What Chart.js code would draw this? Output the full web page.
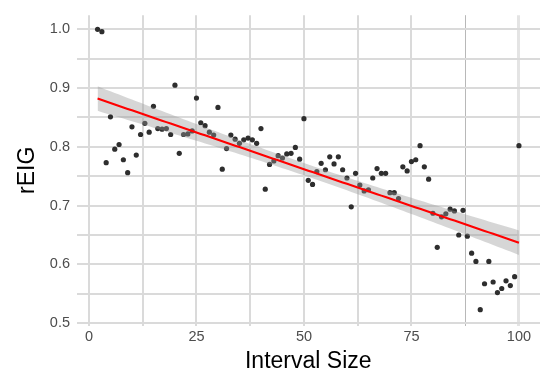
<!DOCTYPE html>
<html>
<head>
<meta charset="utf-8">
<script src="https://cdn.jsdelivr.net/npm/chart.js@4"></script>
<style>
  html, body { margin: 0; padding: 0; background: #fff; }
  #wrap { width: 544px; height: 379px; }
</style>
</head>
<body>
<div id="wrap"><canvas id="c" width="544" height="379"></canvas></div>
<script>
// Data
const intervalSize = [2,3,4,5,6,7,8,9,10,11,12,13,14,15,16,17,18,19,20,21,22,23,24,25,26,27,28,29,30,31,32,33,34,35,36,37,38,39,40,41,42,43,44,45,46,47,48,49,50,51,52,53,54,55,56,57,58,59,60,61,62,63,64,65,66,67,68,69,70,71,72,73,74,75,76,77,78,79,80,81,82,83,84,85,86,87,88,89,90,91,92,93,94,95,96,97,98,99,100];
const rEIG = [1.000,0.996,0.773,0.851,0.796,0.804,0.778,0.756,0.834,0.786,0.821,0.840,0.825,0.869,0.831,0.830,0.831,0.821,0.905,0.789,0.821,0.822,0.827,0.883,0.841,0.836,0.825,0.820,0.867,0.762,0.797,0.820,0.813,0.806,0.812,0.815,0.812,0.806,0.831,0.728,0.770,0.776,0.785,0.781,0.788,0.789,0.799,0.779,0.848,0.743,0.736,0.758,0.772,0.761,0.783,0.771,0.783,0.761,0.747,0.698,0.755,0.735,0.725,0.727,0.747,0.763,0.755,0.755,0.722,0.722,0.712,0.766,0.759,0.775,0.778,0.802,0.766,0.745,0.687,0.629,0.681,0.686,0.694,0.691,0.650,0.692,0.648,0.619,0.605,0.523,0.567,0.605,0.570,0.552,0.559,0.572,0.564,0.579,0.802];
const xTickValues = [0,12.5,25,37.5,50,62.5,75,87.5,100];
const xTickLabels = ['0','','25','','50','','75','','100'];
const yTickValues = [0.5,0.55,0.6,0.65,0.7,0.75,0.8,0.85,0.9,0.95,1.0];
const yTickLabels = ['0.5','','0.6','','0.7','','0.8','','0.9','','1.0'];

// Linear fit (lm) with 95% confidence band, computed from the data
const n = intervalSize.length;
const xbar = intervalSize.reduce((a,b)=>a+b,0)/n;
const ybar = rEIG.reduce((a,b)=>a+b,0)/n;
let sxx = 0, sxy = 0;
for (let i=0;i<n;i++){ sxx += (intervalSize[i]-xbar)**2; sxy += (intervalSize[i]-xbar)*(rEIG[i]-ybar); }
const slope = sxy/sxx, icpt = ybar - slope*xbar;
let sse = 0;
for (let i=0;i<n;i++){ sse += (rEIG[i]-(icpt+slope*intervalSize[i]))**2; }
const s = Math.sqrt(sse/(n-2));
const tval = 1.9847;
const fitLine = [], upper = [], lower = [];
for (const x of intervalSize){
  const yh = icpt + slope*x;
  const se = s*Math.sqrt(1/n + (x-xbar)**2/sxx);
  fitLine.push({x, y: yh});
  upper.push({x, y: yh + tval*se});
  lower.push({x, y: yh - tval*se});
}
const points = intervalSize.map((x,i)=>({x, y: rEIG[i]}));

const gridColorX = (ctx) => {
  const v = ctx.tick && ctx.tick.value;
  if (v === 87.5) return '#b8b8b8';
  if (v === 100) return '#e4e4e4';
  return '#dadada';
};
const gridWidthX = (ctx) => {
  const v = ctx.tick && ctx.tick.value;
  if (v === 87.5) return 1;
  if (v === 100) return 3;
  return 2;
};

new Chart(document.getElementById('c'), {
  type: 'line',
  data: {
    datasets: [
      { data: points, showLine: false, pointRadius: 2.6, pointHoverRadius: 2.6,
        pointBackgroundColor: '#2e2e2e', pointBorderWidth: 0, order: 3 },
      { data: upper, pointRadius: 0, borderWidth: 0, borderColor: 'rgba(0,0,0,0)',
        backgroundColor: 'rgba(153,153,153,0.4)', fill: '+1', tension: 0, order: 2 },
      { data: lower, pointRadius: 0, borderWidth: 0, borderColor: 'rgba(0,0,0,0)',
        fill: false, tension: 0, order: 2 },
      { data: fitLine, pointRadius: 0, borderWidth: 2.1, borderColor: '#ff0000',
        fill: false, tension: 0, order: 1 }
    ]
  },
  options: {
    responsive: false,
    animation: false,
    events: [],
    layout: { padding: { top: 2.3, right: 4, left: 0, bottom: 0 } },
    plugins: { legend: { display: false }, tooltip: { enabled: false } },
    scales: {
      x: {
        type: 'linear', min: -2.9, max: 104.9,
        afterBuildTicks: (sc) => { sc.ticks = xTickValues.map(v => ({ value: v })); },
        afterFit: (sc) => { sc.height = 53.5; },
        ticks: {
          autoSkip: false, maxRotation: 0, padding: 3,
          color: '#4d4d4d', font: { family: 'Liberation Sans', size: 14.5 },
          callback: (v, i) => xTickLabels[i]
        },
        grid: { color: gridColorX, lineWidth: gridWidthX, drawTicks: false },
        border: { display: false },
        title: { display: true, text: 'Interval Size', color: '#000',
          font: { family: 'Liberation Sans', size: 23 }, padding: { top: 0, bottom: 4 } }
      },
      y: {
        type: 'linear', min: 0.496, max: 1.024,
        afterBuildTicks: (sc) => { sc.ticks = yTickValues.map(v => ({ value: v })); },
        afterFit: (sc) => { sc.width = 76.5; },
        ticks: {
          autoSkip: false, padding: 6.5,
          color: '#4d4d4d', font: { family: 'Liberation Sans', size: 14.5 },
          callback: (v, i) => yTickLabels[i]
        },
        grid: { color: '#dadada', lineWidth: 2, drawTicks: false },
        border: { display: false },
        title: { display: true, text: 'rEIG', color: '#000',
          font: { family: 'Liberation Sans', size: 23 }, padding: { top: 13.7, bottom: 0 } }
      }
    }
  }
});
</script>
</body>
</html>
